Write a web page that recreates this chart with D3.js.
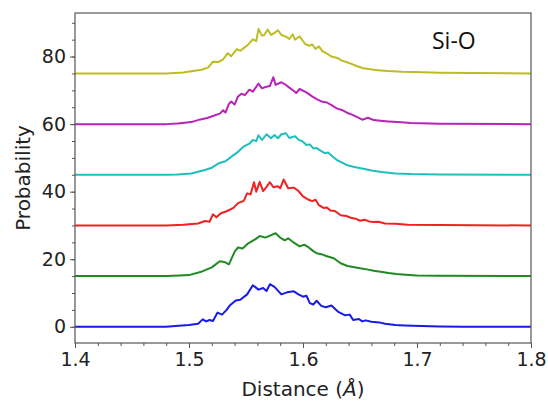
<!DOCTYPE html>
<html>
<head>
<meta charset="utf-8">
<script src="https://cdn.jsdelivr.net/npm/d3@7"></script>
<style>
  html, body { margin: 0; padding: 0; background: #ffffff; }
  svg { display: block; }
</style>
</head>
<body>
<div id="chart"></div>
<script>
// ---------- data ----------
const seriesNames = ["blue", "green", "red", "cyan", "magenta", "yellow"];
const offsets = [0, 15, 30, 45, 60, 75];
const colors = ["#1a1ae6", "#1f8a1f", "#ee2222", "#22bdbd", "#bb22bb", "#bdbd22"];
const xTicks = [1.4, 1.5, 1.6, 1.7, 1.8];
const yTicks = [0, 20, 40, 60, 80];
const annotation = "Si-O";
const xLabelMain = "Distance (";
const xLabelUnit = "Å";
const xLabelEnd = ")";
const yLabel = "Probability";

// [distance, probability above the series' baseline]
const blue = [[1.40,0],[1.48,0],[1.488,0.2],[1.500,0.5],[1.508,0.9],[1.512,2.2],[1.515,1.6],[1.518,2.0],[1.521,1.7],[1.525,4.2],[1.529,3.6],[1.533,5.0],[1.536,6.4],[1.541,7.8],[1.545,8.0],[1.551,9.6],[1.556,12.3],[1.561,11.0],[1.565,11.5],[1.568,10.6],[1.571,12.6],[1.575,11.8],[1.581,9.6],[1.586,10.2],[1.592,10.5],[1.596,9.6],[1.600,8.9],[1.603,9.2],[1.606,7.0],[1.609,6.6],[1.612,7.7],[1.616,6.2],[1.620,5.8],[1.625,6.3],[1.631,4.4],[1.637,3.4],[1.641,3.6],[1.644,2.0],[1.649,2.3],[1.652,1.6],[1.655,1.9],[1.660,1.5],[1.667,1.3],[1.672,0.9],[1.681,0.5],[1.689,0.4],[1.704,0.2],[1.72,0.1],[1.74,0],[1.80,0]];
const green = [[1.40,0],[1.48,0],[1.492,0.2],[1.500,0.3],[1.510,1.2],[1.520,2.6],[1.527,4.4],[1.531,4.2],[1.535,3.5],[1.540,7.2],[1.543,8.5],[1.547,8.2],[1.552,9.7],[1.555,10.3],[1.559,11.1],[1.562,11.9],[1.567,11.4],[1.571,12.0],[1.576,12.7],[1.580,11.4],[1.584,10.6],[1.587,11.2],[1.592,9.9],[1.597,8.8],[1.601,9.3],[1.605,8.5],[1.609,7.4],[1.612,6.8],[1.616,6.5],[1.621,5.9],[1.627,5.3],[1.633,3.8],[1.639,3.0],[1.644,2.7],[1.650,2.3],[1.656,2.0],[1.662,1.6],[1.668,1.3],[1.675,0.9],[1.682,0.6],[1.690,0.4],[1.70,0.2],[1.72,0.1],[1.80,0]];
const red = [[1.40,0],[1.48,0],[1.495,0.2],[1.508,0.6],[1.514,1.3],[1.518,1.1],[1.521,3.3],[1.524,2.4],[1.528,3.6],[1.533,4.2],[1.539,5.2],[1.543,6.6],[1.548,7.3],[1.551,9.5],[1.554,9.2],[1.557,12.8],[1.559,10.0],[1.562,12.9],[1.565,10.2],[1.567,11.0],[1.571,12.8],[1.574,11.3],[1.578,11.6],[1.580,11.0],[1.583,13.6],[1.587,11.0],[1.592,11.2],[1.596,10.2],[1.600,8.6],[1.605,7.6],[1.608,7.2],[1.611,7.6],[1.614,6.0],[1.618,5.2],[1.621,5.3],[1.624,4.4],[1.628,4.3],[1.633,3.0],[1.638,2.8],[1.642,2.3],[1.646,2.0],[1.650,1.4],[1.654,1.7],[1.658,1.2],[1.662,1.0],[1.666,1.1],[1.672,0.6],[1.681,0.5],[1.692,0.2],[1.72,0.1],[1.80,0]];
const cyan = [[1.40,0],[1.48,0],[1.490,0.1],[1.502,0.4],[1.508,0.9],[1.514,1.4],[1.520,2.1],[1.526,3.4],[1.532,4.0],[1.537,5.3],[1.543,6.8],[1.548,8.4],[1.553,9.2],[1.556,10.3],[1.559,10.0],[1.561,11.7],[1.564,10.3],[1.568,12.0],[1.572,10.8],[1.575,11.8],[1.578,10.8],[1.581,12.0],[1.585,12.3],[1.588,10.9],[1.593,11.4],[1.596,10.4],[1.600,9.8],[1.603,8.8],[1.606,9.0],[1.609,7.8],[1.612,7.9],[1.616,7.0],[1.619,6.4],[1.622,6.6],[1.626,5.4],[1.630,4.3],[1.634,3.7],[1.639,2.8],[1.645,2.3],[1.653,1.8],[1.660,1.3],[1.669,0.8],[1.681,0.4],[1.695,0.2],[1.72,0.1],[1.80,0]];
const magenta = [[1.40,0],[1.48,0],[1.490,0.2],[1.502,0.6],[1.510,1.4],[1.516,1.8],[1.521,2.4],[1.527,3.1],[1.530,4.1],[1.532,3.4],[1.535,6.0],[1.537,6.7],[1.540,5.8],[1.543,8.2],[1.546,9.0],[1.549,8.6],[1.553,10.2],[1.556,9.6],[1.558,10.6],[1.561,12.0],[1.564,10.6],[1.567,11.0],[1.571,11.3],[1.574,13.9],[1.576,11.6],[1.581,12.4],[1.585,11.6],[1.588,10.8],[1.592,9.8],[1.594,9.2],[1.597,10.4],[1.603,9.4],[1.608,8.2],[1.612,7.4],[1.617,6.6],[1.621,6.4],[1.625,5.6],[1.630,4.6],[1.634,4.2],[1.639,3.3],[1.643,2.8],[1.648,2.0],[1.652,1.3],[1.657,1.9],[1.662,1.2],[1.668,1.0],[1.675,0.8],[1.683,0.6],[1.695,0.3],[1.72,0.1],[1.80,0]];
const yellow = [[1.40,0],[1.48,0],[1.495,0.3],[1.505,0.8],[1.511,1.1],[1.517,1.8],[1.521,3.5],[1.526,3.4],[1.530,4.2],[1.534,6.0],[1.537,5.1],[1.542,7.2],[1.545,6.7],[1.548,7.5],[1.552,8.6],[1.556,10.1],[1.559,9.6],[1.561,13.2],[1.564,11.2],[1.566,11.4],[1.569,13.0],[1.572,11.4],[1.575,12.0],[1.578,12.8],[1.581,11.4],[1.585,10.9],[1.588,10.2],[1.591,11.6],[1.593,10.0],[1.597,11.0],[1.600,9.6],[1.602,8.7],[1.606,8.2],[1.608,8.6],[1.611,7.3],[1.614,8.0],[1.617,6.6],[1.621,5.9],[1.625,5.0],[1.630,4.6],[1.634,3.8],[1.638,3.4],[1.642,2.9],[1.647,2.2],[1.652,1.6],[1.656,1.4],[1.662,1.1],[1.668,0.9],[1.675,0.7],[1.687,0.5],[1.698,0.4],[1.72,0.2],[1.80,0]];
const seriesData = [blue, green, red, cyan, magenta, yellow];

// ---------- layout ----------
const W = 548, H = 405;
const M = { left: 75, right: 17, top: 13, bottom: 62 };
const pw = W - M.left - M.right, ph = H - M.top - M.bottom;

const svg = d3.select("#chart").append("svg").attr("width", W).attr("height", H);
const g = svg.append("g").attr("transform", `translate(${M.left},${M.top})`);

const x = d3.scaleLinear().domain([1.4, 1.8]).range([0, pw]);
const y = d3.scaleLinear().domain([-4.8, 92.9]).range([ph, 0]);

const tickFont = "'DejaVu Sans', sans-serif";
const axisColor = "#555";

svg.append("defs").append("clipPath").attr("id", "clip")
  .append("rect").attr("width", pw).attr("height", ph);

// curves
const line = d3.line().x(d => x(d[0])).y(d => y(d[1]));
const curves = g.append("g").attr("clip-path", "url(#clip)");
seriesData.forEach((s, i) => {
  curves.append("path")
    .datum(s.map(d => [d[0], d[1] + offsets[i]]))
    .attr("fill", "none")
    .attr("stroke", colors[i])
    .attr("stroke-width", 2)
    .attr("stroke-linejoin", "round")
    .attr("d", line);
});

// axes (minor then major)
const xMinor = d3.range(1.4, 1.8001, 0.02);
const yMinor = d3.range(0, 92.01, 5);

const xAxisMinor = d3.axisBottom(x).tickValues(xMinor).tickSize(3).tickFormat("");
const xAxis = d3.axisBottom(x).tickValues(xTicks).tickSize(5).tickPadding(5).tickFormat(d3.format(".1f"));
const yAxisMinor = d3.axisLeft(y).tickValues(yMinor).tickSize(3).tickFormat("");
const yAxis = d3.axisLeft(y).tickValues(yTicks).tickSize(5).tickPadding(4).tickFormat(d3.format("d"));

function style(sel) {
  sel.select(".domain").remove();
  sel.selectAll("line").attr("stroke", axisColor).attr("stroke-width", 1);
  sel.selectAll("text").attr("fill", "#222").style("font-family", tickFont).style("font-size", "19px");
}
g.append("g").attr("transform", `translate(0,${ph})`).call(xAxisMinor).call(style);
g.append("g").attr("transform", `translate(0,${ph})`).call(xAxis).call(style);
g.append("g").call(yAxisMinor).call(style);
g.append("g").call(yAxis).call(style);

// frame
g.append("rect").attr("width", pw).attr("height", ph)
  .attr("fill", "none").attr("stroke", axisColor).attr("stroke-width", 1.2);

// axis labels
const xl = svg.append("text")
  .attr("x", M.left + pw / 2).attr("y", 396)
  .attr("text-anchor", "middle")
  .style("font-family", tickFont).style("font-size", "20px").attr("fill", "#222");
xl.append("tspan").text(xLabelMain);
xl.append("tspan").style("font-style", "italic").text(xLabelUnit);
xl.append("tspan").text(xLabelEnd);

svg.append("text")
  .attr("transform", `translate(30,${M.top + ph / 2}) rotate(-90)`)
  .attr("text-anchor", "middle")
  .style("font-family", tickFont).style("font-size", "20px").attr("fill", "#222")
  .text(yLabel);

// annotation
svg.append("text")
  .attr("x", 432).attr("y", 49)
  .style("font-family", "'Open Sans', sans-serif").style("font-size", "23px").attr("fill", "#111")
  .text(annotation);
</script>
</body>
</html>
